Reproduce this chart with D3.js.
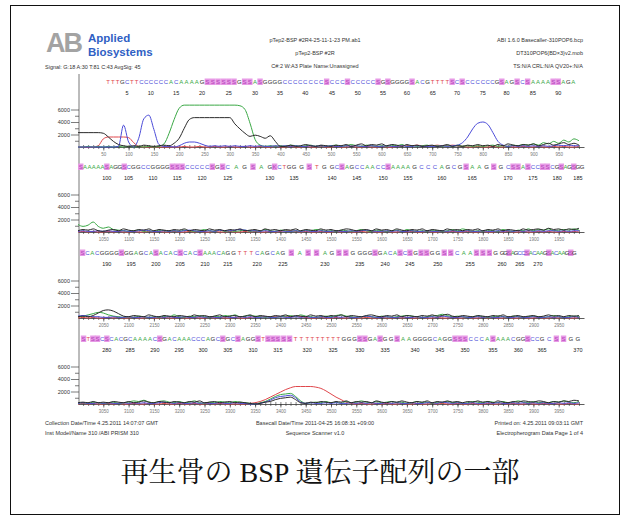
<!DOCTYPE html>
<html>
<head>
<meta charset="utf-8">
<script src="https://cdn.jsdelivr.net/npm/d3@7"></script>
<style>
body { margin: 0; background: #fff; }
svg { display: block; font-family: "Liberation Sans", Arial, sans-serif; }
</style>
</head>
<body>
<svg id="chart" width="630" height="524"></svg>
<script>
// signal is in hundreds, one value every 10 scans from the start of each panel
var scanStep = 10;
var panelStarts = [0, 1000, 2000, 3000];
var panelBaselines = [147, 232, 318, 404];
var dyeOrder = ["T", "A", "C", "G"];
var dyeColor = {"A": "#3aa845", "C": "#4b4bd8", "G": "#2a2a2a", "T": "#e0474c"};

var p1G = [23,23,23,23,23,22,16,9,4,2, 1,2,1,3,2,1,2,3,2,6, 14,30,44,47,47,47,47,47,47,47,
           47,37,29,22,17,19,17,14,18,9, 1,1,3,1,2,4,2,1,3,2, 1,3,2,4,1,3,5,2,4,3,
           5,2,4,3,1,4,2,3,1,2, 3,1,2,4,1,2,1,3,2,4, 2,3,1,4,2,5,3,2,4,3, 5,2,4,6,3,5,7,4,6,3];
var p1A = [0,0,1,0,1,0,1,0,1,0, 1,0,1,0,1,0,1,5,22,44, 62,67,67,67,67,67,67,67,67,67,
           67,67,66,60,38,12,3,1,2,1, 2,1,3,2,1,2,3,1,2,1, 2,3,1,2,4,2,1,3,2,1,
           2,1,3,2,4,1,2,1,2,3, 1,2,1,2,1,3,1,2,1,2, 1,2,3,1,2,1,3,2,4,3, 5,3,7,5,9,6,11,8,13,10];
var p1C = [0,0,0,0,0,0,0,0,1,35, 8,0,14,45,51,28,4,1,1,0, 2,6,8,8,6,3,1,2,1,2,
           1,2,1,1,2,1,2,1,1,2, 1,2,1,2,1,1,2,1,2,1, 2,1,1,2,1,2,1,1,2,1,
           1,2,1,1,2,1,1,2,1,1, 1,1,2,1,2,3,7,16,29,38, 40,36,23,9,3,1,2,1,2,1, 2,1,2,1,2,3,2,3,2,2];
var p1T = [0,0,0,0,2,13,16,16,16,16, 15,7,1,0,0,0,0,0,0,0, 0,1,0,0,1,0,0,1,0,0,
           1,0,0,1,0,0,1,0,0,1, 0,0,1,0,0,1,0,0,1,0, 0,1,0,0,1,0,0,1,0,0,
           1,0,0,1,2,2,2,3,2,2, 2,3,2,2,3,2,1,0,0,1, 0,0,1,0,0,1,0,0,1,0, 0,1,0,0,1,0,1,0,0,1];

var p2G = [2,4,3,5,2,1,3,4,2,5, 3,2,4,3,5,2,4,3,2,4, 3,5,2,4,3,2,5,3,4,2, 4,3,5,2,3,4,2,5,3,4,
           2,4,3,5,2,4,3,2,5,3, 4,2,3,5,4,2,3,4,2,5, 3,4,2,5,3,2,4,3,5,2, 4,3,2,5,3,4,2,4,3,5,
           2,4,3,5,2,4,3,2,5,3, 4,5,3,6,4,5,3,5,4,6];
var p2A = [12,9,11,16,9,6,8,4,3,2, 1,2,3,1,2,1,3,2,1,2, 1,3,2,1,2,4,2,1,3,1, 2,1,2,3,1,2,1,4,2,1,
           3,2,1,2,1,3,2,4,3,1, 2,1,3,2,1,2,4,2,1,3, 2,1,2,3,1,4,2,1,2,1, 3,2,1,2,4,2,5,3,1,2,
           1,3,2,1,4,2,1,3,2,5, 2,4,3,5,2,3,4,3,5,3];
var p2C = [1,2,1,1,2,1,2,1,1,2, 1,1,2,3,2,1,1,2,1,2, 1,2,3,2,1,1,2,1,3,2, 2,3,4,3,2,2,1,2,1,1,
           2,1,1,2,1,2,1,1,2,1, 1,2,1,1,2,1,2,3,2,1, 1,2,1,2,1,1,2,1,1,2, 1,1,2,1,2,1,1,2,1,1,
           2,1,1,2,1,2,1,2,1,2, 1,2,1,2,2,1,2,1,2,2];
var p2T = [0,1,0,1,0,0,1,0,1,0, 0,1,0,0,1,0,1,0,0,1, 0,0,1,0,1,0,0,1,0,0, 1,0,0,1,0,1,0,0,1,0,
           1,2,2,1,0,1,0,0,1,0, 0,1,0,1,0,0,1,0,1,0, 0,1,0,0,1,0,1,0,0,1, 0,0,1,0,1,0,0,1,0,0,
           1,0,0,1,0,1,0,0,1,0, 0,1,0,1,0,0,1,0,1,0];

var p3G = [2,3,2,4,8,12,13,11,7,3, 2,4,3,2,5,3,2,4,3,2, 4,3,2,5,3,4,2,3,5,2, 3,4,2,3,5,2,4,3,2,4,
           3,5,2,4,3,2,5,3,4,2, 4,3,5,2,4,3,2,4,5,3, 2,4,3,5,2,4,3,2,4,3, 5,3,4,6,3,2,4,3,2,4,
           3,2,4,3,5,2,3,4,2,3, 4,2,3,5,3,4,2,4,3,4];
var p3A = [2,3,5,7,9,8,5,3,2,1, 2,1,3,2,1,2,1,3,2,5, 2,1,3,2,4,2,1,3,2,4, 3,5,2,3,4,3,2,1,2,1,
           2,3,4,2,5,3,2,1,2,3, 2,4,5,3,2,1,2,3,2,1, 3,2,1,2,3,4,3,2,1,2, 3,4,6,4,2,3,2,1,2,3,
           2,1,2,3,2,1,3,2,1,2, 3,2,1,2,4,2,1,2,3,2];
var p3C = [3,4,3,2,2,1,1,2,1,1, 2,1,1,2,1,1,2,1,2,1, 1,2,1,1,2,1,2,1,1,2, 1,1,2,1,2,1,1,2,1,1,
           2,1,1,2,1,2,1,1,2,1, 1,2,1,2,1,1,2,3,2,1, 1,2,1,1,2,1,1,2,1,1, 2,1,3,2,1,1,2,1,1,2,
           1,2,1,1,2,1,1,2,1,1, 2,1,1,2,1,2,1,1,2,1];
var p3T = [0,1,0,1,0,0,1,0,1,0, 0,1,0,0,1,0,0,1,0,0, 1,0,0,1,0,0,1,0,1,0, 0,1,0,0,1,2,2,2,2,2,
           2,2,2,2,2,1,0,0,1,0, 0,1,0,0,1,0,0,1,0,0, 1,0,0,1,0,1,0,0,1,0, 0,1,0,0,1,0,0,1,0,0,
           1,0,1,0,0,1,0,0,1,0, 0,1,0,0,1,0,1,0,0,1];

var p4G = [2,3,2,4,2,3,2,4,3,2, 4,2,3,5,3,2,4,3,2,4, 3,2,4,3,5,2,3,4,2,3, 4,2,3,2,1,0,1,3,4,7,
           9,10,11,7,2,1,3,2,4,3, 2,4,3,5,2,4,3,4,2,5, 3,2,4,3,5,3,2,4,3,5, 2,4,3,5,3,4,2,4,3,5,
           3,4,2,5,3,2,4,3,5,4, 3,5,4,2,4,3,5,4,6,5];
var p4A = [1,2,1,3,2,1,2,3,1,2, 3,5,4,6,3,2,4,5,3,2, 4,2,3,5,2,1,3,2,4,3, 2,4,3,2,1,0,2,4,8,12,
           15,16,17,12,5,1,2,3,2,4, 2,3,1,4,2,3,5,3,2,4, 2,3,4,2,3,1,2,4,2,3, 1,3,2,4,2,3,1,2,4,3,
           2,4,3,2,4,2,3,5,3,2, 4,2,3,2,4,3,5,3,2,4];
var p4C = [1,2,1,1,2,1,2,1,1,2, 1,2,1,2,1,1,2,3,2,1, 2,1,1,2,1,2,1,1,2,1, 1,2,1,1,0,0,1,3,6,10,
           12,13,14,10,3,1,2,1,1,2, 1,2,1,1,2,1,2,1,2,1, 1,2,1,2,1,1,2,1,1,2, 2,1,3,2,1,2,1,1,2,1,
           1,2,1,2,1,1,2,1,2,1, 2,1,2,1,1,2,1,2,1,2];
var p4T = [0,1,0,1,0,0,1,0,1,0, 0,1,0,0,1,0,0,1,0,0, 1,0,0,1,0,0,1,0,1,0, 0,0,0,0,1,2,4,7,11,15,
           19,23,26,28,28,28,28,27,25,21, 16,11,7,3,1,0,1,0,0,1, 0,1,0,0,1,0,0,1,0,0, 1,0,1,0,0,1,0,0,1,0,
           0,1,0,0,1,0,1,0,0,1, 0,0,1,0,1,0,0,1,0,0];

var traces = [
    {"G": p1G, "A": p1A, "C": p1C, "T": p1T},
    {"G": p2G, "A": p2A, "C": p2C, "T": p2T},
    {"G": p3G, "A": p3A, "C": p3C, "T": p3T},
    {"G": p4G, "A": p4A, "C": p4C, "T": p4T}
];

// base calls per panel and the first base number of each row
var baseCalls = [
    "TTTGCTTCCCCCCACAAAAGSSSSSSGSSASGGGGCCCCCCCCSCCCSCCCCCSGSGGGGSACGTTTTSCSCCCCCCGSAGSCSAAAASSAGA",
    "SAAAAASAGGSCGGCCGGGGSSSCCCCCSGSCAGSAGKCTGGGSTGGCSAGCCAACCSAAAAGCCCAGCGSAAGSGCSSASCCSSCGSAGSGG",
    "SCACGGGGSGGAGCASACACSCACSAAACAGGTTTCAGCAGSASSAGSSGGGGSGACASCSGSSGGSSCAASSSGGGSAGCCSACAAGSACAAGSG",
    "STSSCSCACGCAAAACSGACAAACCCAGCSGCSAGGSTSSSSSTTTTTTTTTGGGSSGASGGSAAGGGGCAGGSSSCCCASAAACGGSCCGCSSGG"
];
var firstBase = [1, 94, 185, 275];

// numbered base positions and the scan where each one sits
var posNumbers = [
    [5,10,15,20,25,30,35,40,45,50,55,60,65,70,75,80,85,90],
    [100,105,110,115,120,125,130,135,140,145,150,155,160,165,170,175,180,185],
    [190,195,200,205,210,215,220,225,230,235,240,245,250,255,260,265,270],
    [280,285,290,295,300,305,310,315,320,325,330,335,340,345,350,355,360,365,370]
];
var posScans = [
    [97,144,194,245,298,350,399,449,502,553,603,650,701,749,800,847,899,949],
    [1057,1100,1148,1196,1245,1296,1379,1427,1502,1551,1603,1652,1719,1779,1850,1899,1947,1988],
    [2057,2105,2154,2202,2251,2296,2354,2405,2488,2557,2607,2656,2711,2775,2838,2873,2909],
    [3057,3103,3152,3200,3247,3296,3346,3395,3453,3504,3557,3607,3666,3715,3765,3820,3870,3917,3988]
];

var yMajor = [2000, 4000, 6000];
var yMinor = [1000, 3000, 5000];

var headerLeft = ["Signal: G:18 A:30 T:81 C:43 AvgSig: 45"];
var headerMid = ["pTep2-BSP #2R4-25-11-1-23 PM.ab1", "pTep2-BSP #2R", "C#:2 W:A3 Plate Name:Unassigned"];
var headerRight = ["ABI 1.6.0   Basecaller-310POP6.bcp", "DT310POP6{BD×3}v2.mob", "TS:N/A  CRL:N/A  QV20+:N/A"];
var footerLeft = ["Collection Date/Time 4.25.2011 14:07:07 GMT", "Inst Model/Name 310 /ABI PRISM 310"];
var footerMid = ["Basecall Date/Time 2011-04-25 16:08:31 +09:00", "Sequence Scanner v1.0"];
var footerRight = ["Printed on: 4.25.2011 09:03:11 GMT", "Electropherogram Data Page 1 of 4"];
var caption = "再生骨の BSP 遺伝子配列の一部";

var svg = d3.select("#chart");
var plotLeft = 78, plotRight = 584;

// frame
svg.append("rect")
    .attr("x", 10.5).attr("y", 5.5)
    .attr("width", 609).attr("height", 509)
    .attr("fill", "none")
    .attr("stroke", "#111")
    .attr("stroke-width", 1);

// logo
svg.append("text")
    .attr("x", 46).attr("y", 52)
    .attr("font-size", 27).attr("font-weight", "bold")
    .attr("letter-spacing", -2)
    .attr("fill", "#a3a3a3")
    .text("AB");
svg.append("text")
    .attr("x", 88).attr("y", 42)
    .attr("font-size", 11.5).attr("font-weight", "bold")
    .attr("fill", "#2f5fc4")
    .text("Applied");
svg.append("text")
    .attr("x", 88).attr("y", 56)
    .attr("font-size", 11.5).attr("font-weight", "bold")
    .attr("fill", "#2f5fc4")
    .text("Biosystems");

function textBlock(lines, x, y0, gap, anchor) {
    svg.append("g")
        .selectAll("text")
        .data(lines)
        .enter()
    .append("text")
        .attr("x", x)
        .attr("y", function(d, i) {return y0 + i * gap;})
        .attr("text-anchor", anchor)
        .attr("font-size", 5.5)
        .attr("fill", "#333")
        .text(function(d) {return d;});
}

textBlock(headerLeft, 45, 69, 13, "start");
textBlock(headerMid, 315, 42, 13, "middle");
textBlock(headerRight, 583, 42, 13, "end");
textBlock(footerLeft, 45, 425, 10, "start");
textBlock(footerMid, 315, 425, 10, "middle");
textBlock(footerRight, 583, 425, 10, "end");

// shared y axis line
svg.append("line")
    .attr("x1", 79).attr("x2", 79)
    .attr("y1", 74).attr("y2", 405)
    .attr("stroke", "#555").attr("stroke-width", 0.8);

var line = d3.line().curve(d3.curveMonotoneX);

panelStarts.forEach(function(start, p) {
    var base = panelBaselines[p];
    var x = d3.scaleLinear().domain([start, start + 1000]).range([plotLeft, plotRight]);
    var y = d3.scaleLinear().domain([0, 7000]).range([base, base - 43.75]);
    var pos = d3.scaleLinear().domain(posNumbers[p]).range(posScans[p]);
    var g = svg.append("g").attr("class", "panel");

    // y ticks
    var yAxis = g.append("g")
        .attr("transform", "translate(79,0)")
        .call(d3.axisLeft(y).tickValues(yMajor).tickSize(8).tickPadding(1).tickFormat(d3.format("d")));
    yAxis.select(".domain").remove();
    yAxis.selectAll("line").attr("stroke", "#444").attr("stroke-width", 0.7);
    yAxis.selectAll("text").attr("font-size", 5.5).attr("fill", "#333").attr("font-family", "Liberation Sans, Arial, sans-serif");
    var yMinorAxis = g.append("g")
        .attr("transform", "translate(79,0)")
        .call(d3.axisLeft(y).tickValues(yMinor).tickSize(4).tickFormat(""));
    yMinorAxis.select(".domain").remove();
    yMinorAxis.selectAll("line").attr("stroke", "#444").attr("stroke-width", 0.7);

    // scan axis
    var xAxis = g.append("g")
        .attr("transform", "translate(0," + base + ")")
        .call(d3.axisBottom(x).tickValues(d3.range(start + 50, start + 1000, 50))
            .tickSize(3.5).tickPadding(2.5).tickSizeOuter(0).tickFormat(d3.format("d")));
    xAxis.select(".domain").attr("stroke", "#333").attr("stroke-width", 0.8);
    xAxis.selectAll("line").attr("stroke", "#333").attr("stroke-width", 0.7);
    xAxis.selectAll("text").attr("font-size", 4.5).attr("fill", "#777").attr("font-family", "Liberation Sans, Arial, sans-serif");
    var xMinor = g.append("g")
        .attr("transform", "translate(0," + (base - 2) + ")")
        .call(d3.axisBottom(x).tickValues(d3.range(start + 10, start + 1000, 10)).tickSize(4).tickFormat("").tickSizeOuter(0));
    xMinor.select(".domain").remove();
    xMinor.selectAll("line").attr("stroke", "#333").attr("stroke-width", 0.6);

    // traces
    dyeOrder.forEach(function(dye) {
        var values = traces[p][dye];
        g.append("path")
            .datum(values)
            .attr("fill", "none")
            .attr("stroke", dyeColor[dye])
            .attr("stroke-width", 1)
            .attr("stroke-linejoin", "round")
            .attr("d", line.x(function(d, i) {return x(start + i * scanStep);})
                           .y(function(d) {return y(d * 100);}));
    });

    // base calls
    var calls = baseCalls[p].split("").map(function(b, i) {return {base: b, num: firstBase[p] + i};});
    var callG = g.append("g");
    callG.selectAll("rect")
        .data(calls.filter(function(d) {return "ACGT".indexOf(d.base) < 0;}))
        .enter()
    .append("rect")
        .attr("x", function(d) {return x(pos(d.num)) - 2.7;})
        .attr("y", base - 68.5)
        .attr("width", 5.4)
        .attr("height", 6.5)
        .attr("fill", "#e79ae6");
    callG.selectAll("text")
        .data(calls)
        .enter()
    .append("text")
        .attr("x", function(d) {return x(pos(d.num));})
        .attr("y", base - 63)
        .attr("text-anchor", "middle")
        .attr("font-size", 6)
        .attr("fill", function(d) {return dyeColor[d.base] || "#b23cb8";})
        .text(function(d) {return d.base;});

    // base numbers
    g.append("g")
        .selectAll("text")
        .data(posNumbers[p])
        .enter()
    .append("text")
        .attr("x", function(d) {return x(pos(d));})
        .attr("y", base - 52)
        .attr("text-anchor", "middle")
        .attr("font-size", 5.5)
        .attr("fill", "#222")
        .text(function(d) {return d;});
});

// caption
svg.append("text")
    .attr("x", 320).attr("y", 482)
    .attr("text-anchor", "middle")
    .attr("font-size", 28)
    .attr("font-family", "'Liberation Serif', 'Noto Serif CJK JP', 'Noto Sans CJK JP', serif")
    .attr("fill", "#111")
    .text(caption);
</script>
</body>
</html>
